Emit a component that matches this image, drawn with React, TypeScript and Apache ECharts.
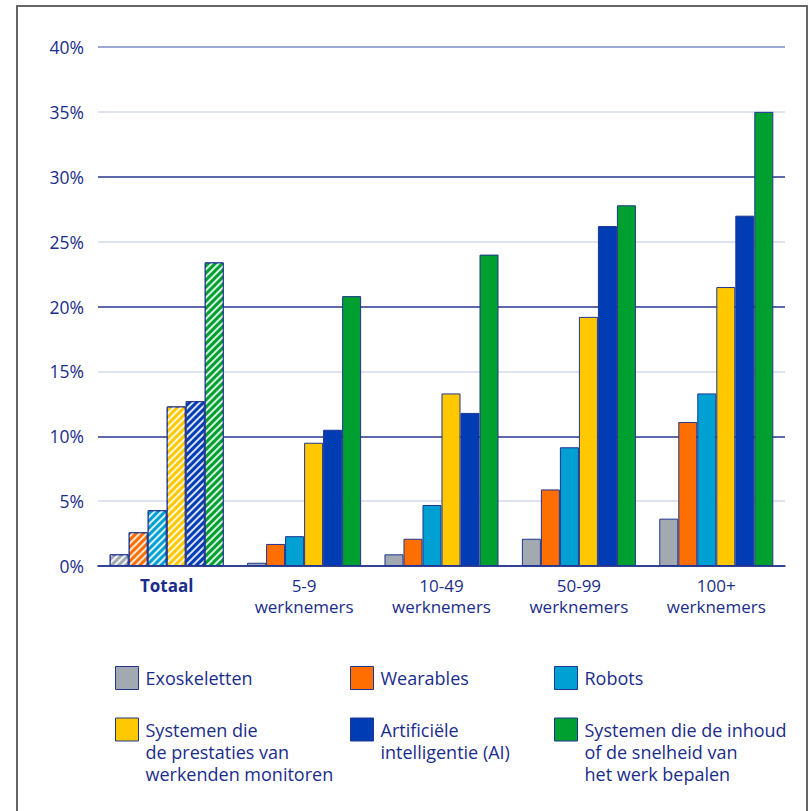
import React, { useEffect, useRef } from "react";
import * as echarts from "echarts";

const categories = ["Totaal", "5-9\nwerknemers", "10-49\nwerknemers", "50-99\nwerknemers", "100+\nwerknemers"];
const seriesNames = [
  "Exoskeletten",
  "Wearables",
  "Robots",
  "Systemen die\nde prestaties van\nwerkenden monitoren",
  "Artificiële\nintelligentie (AI)",
  "Systemen die de inhoud\nof de snelheid van\nhet werk bepalen",
];
const exoskeletten = [0.9, 0.25, 0.9, 2.1, 3.65];
const wearables = [2.6, 1.7, 2.1, 5.9, 11.1];
const robots = [4.3, 2.3, 4.7, 9.15, 13.3];
const monitoren = [12.3, 9.5, 13.3, 19.2, 21.5];
const ai = [12.7, 10.5, 11.8, 26.2, 27.0];
const inhoud = [23.4, 20.8, 24.0, 27.8, 35.0];
const yTicks = [0, 5, 10, 15, 20, 25, 30, 35, 40];

const allValues = [exoskeletten, wearables, robots, monitoren, ai, inhoud];
const colors = ["#a3a9b0", "#ff6e00", "#00a0d2", "#ffc800", "#003cb4", "#00a030"];
const TEXT = "#1b2d8a";
const BORDER = "#1f3590";
const FONT = "'Open Sans', 'Noto Sans', sans-serif";

export default function App() {
  const ref = useRef<HTMLDivElement>(null);
  useEffect(() => {
    if (!ref.current) return;
    const chart = echarts.init(ref.current, undefined, { renderer: "svg" });
    const hatch = {
      symbol: "rect",
      symbolSize: 1,
      color: "rgba(255,255,255,0.85)",
      dashArrayX: [1, 0],
      dashArrayY: [1.5, 3],
      rotation: -Math.PI / 4,
    };
    const series = allValues.map((vals, si) => ({
      type: "bar",
      name: seriesNames[si],
      barGap: "0%",
      barCategoryGap: "17%",
      itemStyle: { color: colors[si], borderColor: BORDER, borderWidth: 1 },
      data: vals.map((v, i) => (i === 0 ? { value: v, itemStyle: { decal: hatch } } : v)),
    }));
    const legendPos = [
      { left: 115, top: 666, lines: 1 },
      { left: 350, top: 666, lines: 1 },
      { left: 554, top: 666, lines: 1 },
      { left: 115, top: 718, lines: 3 },
      { left: 350, top: 718, lines: 2 },
      { left: 554, top: 718, lines: 3 },
    ];
    const LH = 22;
    const legends = legendPos.map((p, i) => {
      const total = p.lines * 2 - 1;
      const iconCenter = p.top + 11.5;
      const top = p.lines === 1 ? p.top : iconCenter - (total * LH) / 2;
      const prefix = "\n".repeat(p.lines - 1);
      return {
        data: [seriesNames[i]],
        left: p.left,
        top,
        padding: 0,
        itemWidth: 23,
        itemHeight: 23,
        selectedMode: false,
        icon: "rect",
        formatter: (name: string) => prefix + name,
        itemStyle: { color: colors[i], borderColor: BORDER, borderWidth: 1, decal: "none" },
        textStyle: {
          color: TEXT,
          fontSize: 18,
          fontFamily: FONT,
          lineHeight: LH,
          padding: [0, 0, 0, 2],
        },
      };
    });
    const splitColors = ["#26368c", "#d3d8ec", "#26368c", "#d3d8ec", "#26368c", "#d3d8ec", "#26368c", "#d3d8ec", "#7d8dc6"];
    chart.setOption({
      animation: false,
      aria: { enabled: false },
      grid: { left: 98, right: 23, top: 47, bottom: 245 },
      legend: legends,
      xAxis: {
        type: "category",
        data: categories,
        axisTick: { show: false },
        axisLine: { lineStyle: { color: "#26368c", width: 1.5 } },
        axisLabel: {
          color: TEXT,
          fontSize: 17,
          fontFamily: FONT,
          lineHeight: 21,
          margin: 9,
          interval: 0,
          formatter: (v: string) => (v === "Totaal" ? "{b|Totaal}" : v),
          rich: {
            b: { fontWeight: "bold", fontSize: 17, fontFamily: FONT, color: TEXT, lineHeight: 21 },
          },
        },
      },
      yAxis: {
        type: "value",
        min: yTicks[0],
        max: yTicks[yTicks.length - 1],
        interval: 5,
        axisLine: { show: false },
        axisTick: { show: false },
        axisLabel: { color: TEXT, fontSize: 17.5, fontFamily: FONT, margin: 14, formatter: "{value}%" },
        splitLine: { lineStyle: { color: splitColors, width: 1.5 } },
      },
      graphic: [
        {
          type: "rect",
          shape: { x: 17, y: 6, width: 790, height: 820 },
          style: { fill: "none", stroke: "#666666", lineWidth: 2 },
          silent: true,
        },
      ],
      series,
    });
    return () => chart.dispose();
  }, []);
  return (
    <div
      ref={ref}
      style={{ position: "fixed", left: 0, top: 0, width: 808, height: 811, background: "#fff" }}
    />
  );
}
